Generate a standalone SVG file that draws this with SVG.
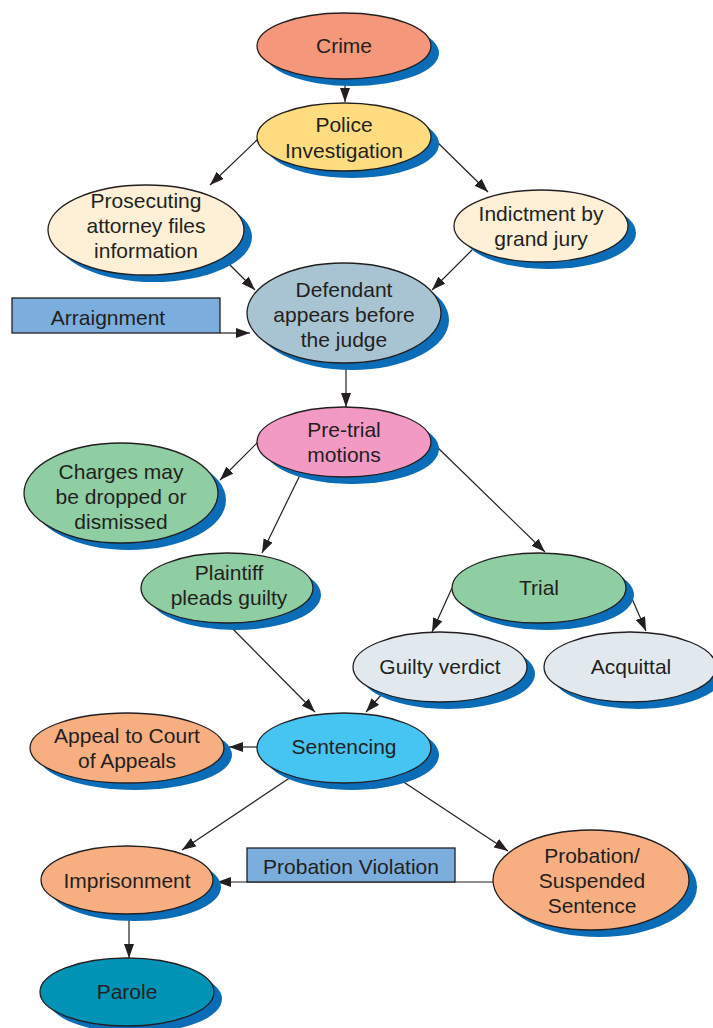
<svg xmlns="http://www.w3.org/2000/svg" width="713" height="1028" viewBox="0 0 713 1028">
  <style>
    .shadow { fill: #0B6DB7; }
    .node { stroke: #231F20; stroke-width: 1.3; }
    .label { font-family: "Liberation Sans", Arial, sans-serif; font-size: 21px; fill: #231F20; text-anchor: middle; }
    .box { fill: #7BAEDD; stroke: #231F20; stroke-width: 1.3; }
    .edge { stroke: #231F20; stroke-width: 1.2; fill: none; marker-end: url(#arrow); }
    .crime { fill: #F4977A; }
    .police { fill: #FEDC7F; }
    .cream { fill: #FDF0D7; }
    .defendant { fill: #A8C4D3; }
    .pretrial { fill: #F39AC4; }
    .green { fill: #8FCDA3; }
    .grey { fill: #E1E9EF; }
    .sentencing { fill: #46C5F3; }
    .orange { fill: #F7AE81; }
    .parole { fill: #0093B6; }
  </style>
  <defs>
    <marker id="arrow" viewBox="0 0 14 10" refX="14" refY="5" markerWidth="14" markerHeight="10" orient="auto" markerUnits="userSpaceOnUse">
      <path d="M0,0 L14,5 L0,10 z" fill="#231F20"/>
    </marker>
  </defs>

  <rect width="713" height="1028" fill="#FFFFFF"/>

  <!-- connectors -->
  <g id="connectors">
    <line class="edge" x1="345" y1="79" x2="345" y2="102"/>
    <line class="edge" x1="257" y1="140" x2="210" y2="185"/>
    <line class="edge" x1="432" y1="137" x2="488" y2="192"/>
    <line class="edge" x1="222" y1="257" x2="255" y2="290"/>
    <line class="edge" x1="472" y1="250" x2="432" y2="290"/>
    <line class="edge" x1="220" y1="333" x2="250" y2="333"/>
    <line class="edge" x1="346" y1="363" x2="346" y2="407"/>
    <line class="edge" x1="258" y1="442" x2="220" y2="480"/>
    <line class="edge" x1="301" y1="473" x2="262" y2="553"/>
    <line class="edge" x1="436" y1="446" x2="545" y2="552"/>
    <line class="edge" x1="452" y1="588" x2="432" y2="632"/>
    <line class="edge" x1="627" y1="587" x2="646" y2="631"/>
    <line class="edge" x1="227" y1="623" x2="315" y2="712"/>
    <line class="edge" x1="382" y1="694" x2="366" y2="712"/>
    <line class="edge" x1="257" y1="747" x2="229" y2="747"/>
    <line class="edge" x1="291" y1="777" x2="182" y2="850"/>
    <line class="edge" x1="396" y1="777" x2="508" y2="851"/>
    <line class="edge" x1="493" y1="882" x2="217" y2="882"/>
    <line class="edge" x1="129" y1="914" x2="129" y2="958"/>
  </g>

  <!-- nodes -->
  <g id="crime">
    <ellipse class="shadow" cx="352" cy="53" rx="87" ry="33"/>
    <ellipse class="node crime" cx="344" cy="46" rx="87" ry="33"/>
    <text class="label" x="344" y="53">Crime</text>
  </g>

  <g id="police-investigation">
    <ellipse class="shadow" cx="352" cy="144" rx="87" ry="34"/>
    <ellipse class="node police" cx="344" cy="137" rx="87" ry="34"/>
    <text class="label" x="344" y="132">Police</text>
    <text class="label" x="344" y="158">Investigation</text>
  </g>

  <g id="prosecuting-attorney">
    <ellipse class="shadow" cx="154" cy="237" rx="98" ry="45"/>
    <ellipse class="node cream" cx="146" cy="230" rx="98" ry="45"/>
    <text class="label" x="146" y="208">Prosecuting</text>
    <text class="label" x="146" y="233">attorney files</text>
    <text class="label" x="146" y="258">information</text>
  </g>

  <g id="indictment">
    <ellipse class="shadow" cx="549" cy="233" rx="87" ry="36"/>
    <ellipse class="node cream" cx="541" cy="226" rx="87" ry="36"/>
    <text class="label" x="541" y="221">Indictment by</text>
    <text class="label" x="541" y="246">grand jury</text>
  </g>

  <g id="arraignment">
    <rect class="box" x="12" y="298" width="208" height="35"/>
    <text class="label" x="108" y="325">Arraignment</text>
  </g>

  <g id="defendant">
    <ellipse class="shadow" cx="352" cy="320" rx="97" ry="50"/>
    <ellipse class="node defendant" cx="344" cy="313" rx="97" ry="50"/>
    <text class="label" x="344" y="297">Defendant</text>
    <text class="label" x="344" y="322">appears before</text>
    <text class="label" x="344" y="347">the judge</text>
  </g>

  <g id="pre-trial-motions">
    <ellipse class="shadow" cx="352" cy="449" rx="87" ry="35"/>
    <ellipse class="node pretrial" cx="344" cy="442" rx="87" ry="35"/>
    <text class="label" x="344" y="437">Pre-trial</text>
    <text class="label" x="344" y="462">motions</text>
  </g>

  <g id="charges-dropped">
    <ellipse class="shadow" cx="129" cy="500" rx="97" ry="50"/>
    <ellipse class="node green" cx="121" cy="493" rx="97" ry="50"/>
    <text class="label" x="121" y="479">Charges may</text>
    <text class="label" x="121" y="504">be dropped or</text>
    <text class="label" x="121" y="529">dismissed</text>
  </g>

  <g id="plaintiff-pleads-guilty">
    <ellipse class="shadow" cx="235" cy="595" rx="86" ry="35"/>
    <ellipse class="node green" cx="227" cy="588" rx="86" ry="35"/>
    <text class="label" x="229" y="580">Plaintiff</text>
    <text class="label" x="229" y="605">pleads guilty</text>
  </g>

  <g id="trial">
    <ellipse class="shadow" cx="547" cy="595" rx="87" ry="35"/>
    <ellipse class="node green" cx="539" cy="588" rx="87" ry="35"/>
    <text class="label" x="539" y="595">Trial</text>
  </g>

  <g id="guilty-verdict">
    <ellipse class="shadow" cx="448" cy="674" rx="87" ry="35"/>
    <ellipse class="node grey" cx="440" cy="667" rx="87" ry="35"/>
    <text class="label" x="440" y="674">Guilty verdict</text>
  </g>

  <g id="acquittal">
    <ellipse class="shadow" cx="638" cy="674" rx="86" ry="35"/>
    <ellipse class="node grey" cx="630" cy="667" rx="86" ry="35"/>
    <text class="label" x="631" y="674">Acquittal</text>
  </g>

  <g id="appeal">
    <ellipse class="shadow" cx="135" cy="755" rx="97" ry="35"/>
    <ellipse class="node orange" cx="127" cy="748" rx="97" ry="35"/>
    <text class="label" x="127" y="743">Appeal to Court</text>
    <text class="label" x="127" y="768">of Appeals</text>
  </g>

  <g id="sentencing">
    <ellipse class="shadow" cx="352" cy="755" rx="87" ry="35"/>
    <ellipse class="node sentencing" cx="344" cy="748" rx="87" ry="35"/>
    <text class="label" x="344" y="754">Sentencing</text>
  </g>

  <g id="probation-violation">
    <rect class="box" x="247" y="848" width="208" height="34"/>
    <text class="label" x="351" y="874">Probation Violation</text>
  </g>

  <g id="imprisonment">
    <ellipse class="shadow" cx="135" cy="887" rx="86" ry="34"/>
    <ellipse class="node orange" cx="127" cy="880" rx="86" ry="34"/>
    <text class="label" x="127" y="888">Imprisonment</text>
  </g>

  <g id="probation">
    <ellipse class="shadow" cx="599" cy="887" rx="98" ry="50"/>
    <ellipse class="node orange" cx="591" cy="880" rx="98" ry="50"/>
    <text class="label" x="592" y="863">Probation/</text>
    <text class="label" x="592" y="888">Suspended</text>
    <text class="label" x="592" y="913">Sentence</text>
  </g>

  <g id="parole">
    <ellipse class="shadow" cx="135" cy="999" rx="87" ry="34"/>
    <ellipse class="node parole" cx="127" cy="992" rx="87" ry="34"/>
    <text class="label" x="127" y="999">Parole</text>
  </g>
</svg>
